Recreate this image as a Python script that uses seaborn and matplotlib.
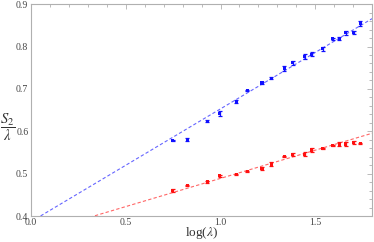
import numpy as np
import pandas as pd
import matplotlib
matplotlib.use("Agg")
import matplotlib.pyplot as plt
import seaborn as sns
from matplotlib.ticker import MultipleLocator

# --- data ---
log_lam = [0.747, 0.825, 0.930, 0.996, 1.084, 1.140, 1.219, 1.267, 1.337,
           1.382, 1.444, 1.482, 1.539, 1.591, 1.626, 1.660, 1.702, 1.737]

blue_y = [0.578, 0.581, 0.624, 0.642, 0.670, 0.696, 0.714, 0.725, 0.748,
          0.762, 0.776, 0.782, 0.795, 0.818, 0.819, 0.832, 0.833, 0.854]
blue_err = [0.002, 0.004, 0.002, 0.006, 0.004, 0.001, 0.002, 0.002, 0.005,
            0.005, 0.006, 0.005, 0.005, 0.002, 0.004, 0.005, 0.003, 0.005]

red_y = [0.461, 0.472, 0.481, 0.495, 0.498, 0.505, 0.512, 0.523, 0.540,
         0.545, 0.546, 0.556, 0.559, 0.566, 0.570, 0.570, 0.573, 0.571]
red_err = [0.004, 0.001, 0.002, 0.002, 0.002, 0.001, 0.004, 0.005, 0.001,
           0.004, 0.005, 0.004, 0.001, 0.001, 0.004, 0.005, 0.003, 0.001]

# fitted lines (slope, intercept)
blue_fit = (0.266, 0.387)
red_fit = (0.133, 0.356)

df = pd.DataFrame({"x": log_lam * 2,
                   "y": blue_y + red_y,
                   "err": blue_err + red_err,
                   "set": ["blue"] * len(blue_y) + ["red"] * len(red_y)})

sns.set_theme(style="white")
plt.rcParams["font.family"] = ["Liberation Serif", "DejaVu Serif"]
plt.rcParams["mathtext.fontset"] = "stix"

fig = plt.figure(figsize=(3.74, 2.42), dpi=100)
ax = fig.add_axes([0.083, 0.107, 0.912, 0.876])

xs = np.array([0.0, 1.8])
for (m, b), col in [(blue_fit, "#6666ff"), (red_fit, "#ff6666")]:
    ax.plot(xs, m * xs + b, ls=(0, (3, 2)), lw=0.8, color=col, zorder=1)

palette = {"blue": "#1010ff", "red": "#ff1010"}
for name, sub in df.groupby("set"):
    ax.errorbar(sub["x"], sub["y"], yerr=sub["err"], fmt="none",
                ecolor=palette[name], elinewidth=0.9, capsize=1.5,
                capthick=0.9, zorder=2)
sns.scatterplot(data=df, x="x", y="y", hue="set", palette=palette,
                marker="s", s=5, linewidth=0, legend=False, ax=ax, zorder=3)

ax.set_xlim(0, 1.8)
ax.set_ylim(0.4, 0.9)
ax.xaxis.set_major_locator(MultipleLocator(0.5))
ax.xaxis.set_minor_locator(MultipleLocator(0.1))
ax.yaxis.set_major_locator(MultipleLocator(0.1))
ax.yaxis.set_minor_locator(MultipleLocator(0.02))
ax.set_xticks([0, 0.5, 1.0, 1.5], ["0.0", "0.5", "1.0", "1.5"])
ax.set_yticks([0.4, 0.5, 0.6, 0.7, 0.8, 0.9])

for sp in ax.spines.values():
    sp.set_color("#b0b0b0")
    sp.set_linewidth(0.8)
ax.tick_params(which="both", direction="in", top=True, right=True,
               color="#b0b0b0", width=0.6)
ax.tick_params(which="major", length=3.5, labelsize=7, labelcolor="#444444", pad=2)
ax.tick_params(axis="x", which="major", pad=1.5)
ax.tick_params(which="minor", length=2)

ax.set_xlabel(r"log($\lambda$)", fontsize=9.5, color="#333333")
ax.xaxis.set_label_coords(0.5, -0.042)
ax.xaxis.label.set_va("top")
ax.set_ylabel(r"$\dfrac{S_2}{\lambda}$", fontsize=10.5, rotation=0,
              color="#333333", va="center", ha="center")
ax.yaxis.set_label_coords(-0.07, 0.42)

fig.savefig("out.png", dpi=100)
